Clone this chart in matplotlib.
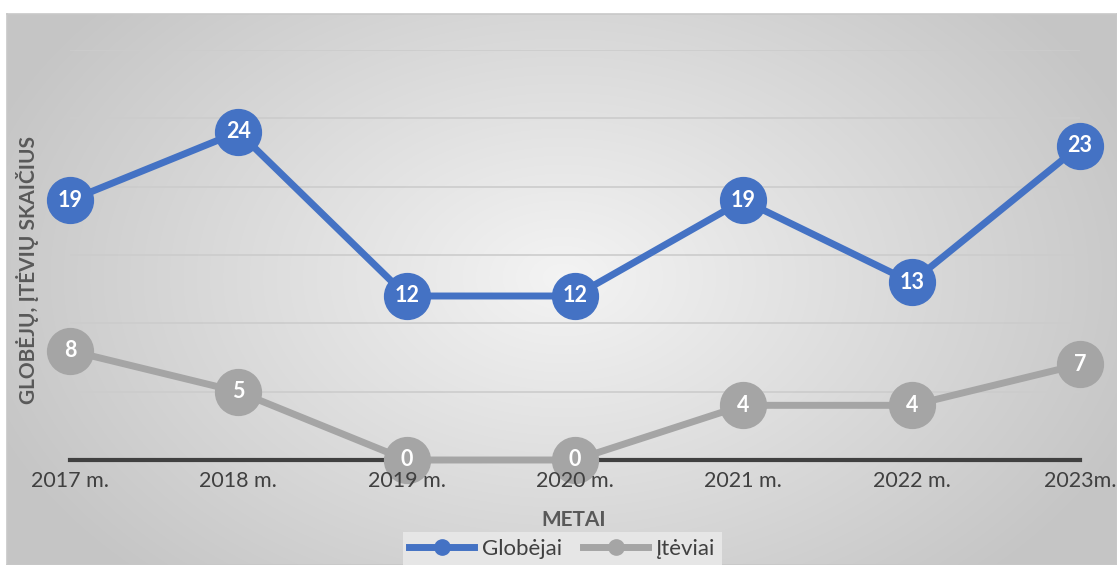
import numpy as np
import matplotlib
matplotlib.use("Agg")
import matplotlib.pyplot as plt
from matplotlib.lines import Line2D
from matplotlib import font_manager as fm

plt.rcParams['font.family'] = ['Lato', 'DejaVu Sans']

categories = ["2017 m.", "2018 m.", "2019 m.", "2020 m.", "2021 m.", "2022 m.", "2023m."]
globejai = [19, 24, 12, 12, 19, 13, 23]
iteviai = [8, 5, 0, 0, 4, 4, 7]
series_names = ["Globėjai", "Įtėviai"]

def has_bold(name):
    for f in fm.fontManager.ttflist:
        if f.name == name:
            w = f.weight
            if isinstance(w, str):
                if w in ("bold", "heavy", "black", "extra bold", "semibold", "demibold"):
                    return True
            elif w >= 600:
                return True
    return False

bold_family = ['Lato', 'DejaVu Sans']
for cand in ['Lato', 'Open Sans', 'Noto Sans', 'Roboto', 'DejaVu Sans']:
    if has_bold(cand):
        bold_family = [cand, 'DejaVu Sans']
        break

W, H = 1117, 565
fig = plt.figure(figsize=(W / 100, H / 100), dpi=100)
fig.patch.set_facecolor("white")

bg = fig.add_axes([7 / W, 0, 1 - 7 / W, (H - 14) / H])
ny, nx = 300, 600
yy, xx = np.mgrid[0:ny, 0:nx]
cx, cy = nx * 0.5, ny * 0.52
r = np.sqrt(((xx - cx) / (nx * 0.55)) ** 2 + ((yy - cy) / (ny * 0.75)) ** 2)
r = np.clip(r, 0, 1)
val = 0.955 - 0.18 * r
img = np.dstack([val, val, val])
bg.imshow(img, extent=[0, 1, 0, 1], aspect='auto', origin='lower', interpolation='bilinear')
bg.set_xlim(0, 1)
bg.set_ylim(0, 1)
bg.set_xticks([])
bg.set_yticks([])
for s in bg.spines.values():
    s.set_color("#c8c8c8")
    s.set_linewidth(1.2)

ax = fig.add_axes([70 / W, (H - 460) / H, 1010 / W, 410 / H])
ax.set_facecolor("none")
x = np.arange(len(categories))
ax.set_xlim(0, len(categories) - 1)
ax.set_ylim(0, 30)
ax.set_yticks(np.arange(0, 31, 5))
ax.yaxis.grid(True, color="#cccccc", linewidth=1.2)
ax.set_axisbelow(True)
for s in ["top", "right", "left"]:
    ax.spines[s].set_visible(False)
ax.spines["bottom"].set_color("#404040")
ax.spines["bottom"].set_linewidth(3)
ax.spines["bottom"].set_zorder(1)
ax.tick_params(axis='y', length=0, labelleft=False)
ax.tick_params(axis='x', length=0, pad=8, labelsize=15.5, labelcolor="#404040")
ax.set_xticks(x)
ax.set_xticklabels(categories)

blue = "#4472C4"
gray = "#A5A5A5"
ax.plot(x, globejai, color=blue, lw=5, marker='o', ms=33, zorder=3, clip_on=False)
ax.plot(x, iteviai, color=gray, lw=5, marker='o', ms=33, zorder=4, clip_on=False)
for xi, v in zip(x, globejai):
    ax.text(xi, v, str(v), ha='center', va='center', color='white', fontsize=15.5,
            fontweight='bold', family=bold_family, zorder=5)
for xi, v in zip(x, iteviai):
    ax.text(xi, v, str(v), ha='center', va='center', color='white', fontsize=15.5,
            fontweight='bold', family=bold_family, zorder=5)
for lbl in ax.get_xticklabels():
    lbl.set_zorder(6)
ax.xaxis.set_zorder(6)

fig.text(28 / W, 1 - 270 / H, "GLOBĖJŲ, ĮTĖVIŲ SKAIČIUS", rotation=90, ha='center',
         va='center', fontsize=15, fontweight='bold', family=bold_family, color="#595959")
fig.text(574 / W, 1 - 520 / H, "METAI", ha='center', va='center', fontsize=15,
         fontweight='bold', family=bold_family, color="#595959")

handles = [Line2D([0], [0], color=blue, lw=5, marker='o', ms=11),
           Line2D([0], [0], color=gray, lw=5, marker='o', ms=11)]
leg = fig.legend(handles, series_names, loc='center', bbox_to_anchor=(562.5 / W, 1 - 549 / H),
                 ncol=2, frameon=True, fontsize=16, handlelength=2.9, columnspacing=0.95,
                 borderpad=0.3, handletextpad=0.38, fancybox=False, borderaxespad=0)
leg.get_frame().set_facecolor("#e6e6e6")
leg.get_frame().set_edgecolor("none")
leg.get_frame().set_alpha(1)
for t in leg.get_texts():
    t.set_color("#404040")

fig.savefig("out.png", dpi=100)
